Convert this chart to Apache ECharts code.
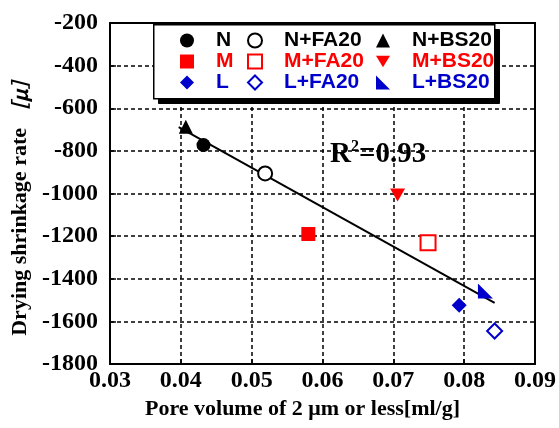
<!DOCTYPE html>
<html>
<head>
<meta charset="utf-8">
<script src="https://cdn.jsdelivr.net/npm/echarts@6/dist/echarts.min.js"></script>
<style>
html,body{margin:0;padding:0;background:#fff;}
#main{width:559px;height:428px;}
</style>
</head>
<body>
<div id="main"></div>
<script>
// 数据
var mixNames = ['N','N+FA20','N+BS20','M','M+FA20','M+BS20','L','L+FA20','L+BS20'];
var poreVol  = [0.0432, 0.0519, 0.0407, 0.0580, 0.0749, 0.0706, 0.0793, 0.0843, 0.0830];
var shrink   = [-773, -906, -687, -1190, -1231, -1007, -1524, -1645, -1458];
var fitRange = [0.0397, 0.0843];
var r2Text   = '0.93';

var serifFont = "'Liberation Serif','Noto Sans CJK JP',serif";
var legendFont = "'Liberation Sans Narrow','Liberation Sans',sans-serif";
var BLUE = '#0000cc', RED = '#ff0000', BLACK = '#000';

// 各系列样式
var marks = [
	{symbol:'circle', color:BLACK, size:14},
	{symbol:'emptyCircle', color:BLACK, size:14},
	{symbol:'triangle', color:BLACK, size:14},
	{symbol:'rect', color:RED, size:14},
	{symbol:'emptyRect', color:RED, size:15},
	{symbol:'path://M0,0L12,0L6,10Z', color:RED, size:[15,13]},
	{symbol:'diamond', color:BLUE, size:15},
	{symbol:'emptyDiamond', color:BLUE, size:15},
	{symbol:'path://M0,0L0,10L10,10Z', color:BLUE, size:15}
];

// 最小二乘回归线
function fitLine(xs, ys){
	var n = xs.length, mx = 0, my = 0;
	for(var i=0;i<n;i++){ mx += xs[i]; my += ys[i]; }
	mx /= n; my /= n;
	var sxy = 0, sxx = 0;
	for(var i=0;i<n;i++){ sxy += (xs[i]-mx)*(ys[i]-my); sxx += (xs[i]-mx)*(xs[i]-mx); }
	var k = sxy/sxx, b = my - k*mx;
	return fitRange.map(function(x){ return [x, k*x + b]; });
}

var _series = [];
for(var i=0;i<mixNames.length;i++){
	var m = marks[i];
	_series.push({
		name: mixNames[i],
		type: 'scatter',
		symbol: m.symbol,
		symbolSize: m.size,
		itemStyle: {color: m.color, borderColor: m.color, borderWidth: m.symbol.indexOf('empty')==0 ? 1.2 : 0, opacity:1},
		z: 3,
		data: [[poreVol[i], shrink[i]]]
	});
}
_series.push({
	name: 'fit',
	type: 'line',
	symbol: 'none',
	silent: true,
	lineStyle: {color:'#000', width:2},
	z: 2,
	data: fitLine(poreVol, shrink)
});

function makeLegend(names, left){
	return {
		orient: 'vertical',
		left: left,
		top: 30,
		padding: 0,
		itemWidth: 14,
		itemHeight: 14,
		itemGap: 0,
		z: 6,
		textStyle: {fontFamily: legendFont, fontWeight: 'bold', fontSize: 21, lineHeight: 20, padding:[0,0,0,17]},
		data: names.map(function(n){
			var c = n.charAt(0)=='N' ? BLACK : (n.charAt(0)=='M' ? RED : BLUE);
			return {name: n, textStyle: {color: c}};
		})
	};
}

var axisText = {color:'#000', fontFamily: serifFont, fontWeight:'bold', fontSize:24};
var gridDash = {show:true, lineStyle:{color:'#000', type:[4,3], width:1.5}};
var nameText = {color:'#000', fontFamily: serifFont, fontWeight:'bold', fontSize:22};

var myChart = echarts.init(document.getElementById('main'));
var option = {
	backgroundColor: '#fff',
	animation: false,
	grid: {
		left: 110, right: 24, top: 23, bottom: 64,
		show: true, borderColor: '#000', borderWidth: 2, backgroundColor: 'transparent'
	},
	legend: [
		makeLegend(['N','M','L'], 180),
		makeLegend(['N+FA20','M+FA20','L+FA20'], 247),
		makeLegend(['N+BS20','M+BS20','L+BS20'], 376)
	],
	xAxis: {
		type: 'value',
		min: 0.03, max: 0.09, interval: 0.01,
		name: 'Pore volume of 2 μm or less[ml/g]',
		nameLocation: 'middle',
		nameGap: 33,
		nameTextStyle: Object.assign({padding:[0,40,0,0]}, nameText),
		axisLine: {lineStyle:{color:'#000', width:2}},
		axisTick: {inside:true, length:5, lineStyle:{color:'#000', width:1.5}},
		axisLabel: Object.assign({margin:5, formatter:function(v){ return v.toFixed(2); }}, axisText),
		splitLine: gridDash
	},
	yAxis: {
		type: 'value',
		min: -1800, max: -200, interval: 200,
		name: 'Drying shrinkage rate {c|［μ］}',
		nameLocation: 'middle',
		nameGap: 68,
		nameTextStyle: Object.assign({padding:[0,18,0,0], rich:{c:{fontFamily:"'Noto Sans CJK JP',sans-serif", fontSize:20, fontStyle:'italic', color:'#000'}}}, nameText),
		axisLine: {lineStyle:{color:'#000', width:2}},
		axisTick: {inside:true, length:6, lineStyle:{color:'#000', width:1.5}},
		axisLabel: Object.assign({margin:12, formatter:function(v){ return String(v); }}, axisText),
		splitLine: gridDash
	},
	graphic: {
		elements: [
			{
				type: 'rect',
				id: 'legendShadow',
				z: 4,
				left: 158, top: 29,
				shape: {width:341, height:74},
				style: {fill:'#000', stroke:'#000'}
			},
			{
				type: 'rect',
				id: 'legendBox',
				z: 5,
				left: 153, top: 24,
				shape: {width:341, height:74},
				style: {fill:'#fff', stroke:'#000', lineWidth:1.5}
			},
			{
				type: 'text',
				id: 'r2',
				z: 5,
				left: 330, top: 139,
				style: {
					text: '{r|R}{s|2}{r|=' + r2Text + '}',
					rich: {
						r: {fontFamily: serifFont, fontWeight:'bold', fontSize:29, fill:'#000', verticalAlign:'bottom'},
						s: {fontFamily: serifFont, fontWeight:'bold', fontSize:16, fill:'#000', verticalAlign:'top', padding:[0,0,14,0]}
					}
				}
			}
		]
	},
	series: _series
};
myChart.setOption(option);
</script>
</body>
</html>
